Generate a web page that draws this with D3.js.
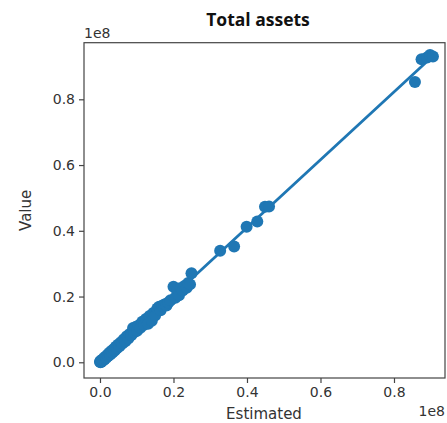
<!DOCTYPE html>
<html>
<head>
<meta charset="utf-8">
<script src="https://cdn.jsdelivr.net/npm/d3@7"></script>
<style>
  html, body { margin: 0; padding: 0; background: #fff; }
  svg { display: block; }
  .tick text { font-family: "DejaVu Sans", sans-serif; font-size: 14px; fill: #333; }
</style>
</head>
<body>
<svg id="chart" width="447" height="423"></svg>
<script>
// Total assets: model estimate vs. reported value (units of currency)
const estimated = [
  0, 100000, 200000, 300000, 400000, 500000, 700000, 900000, 1100000, 1300000,
  1500000, 1700000, 2000000, 2200000, 2500000, 2800000, 3100000, 3400000, 3700000, 4000000,
  4300000, 4600000, 5000000, 5300000, 5700000, 6100000, 6500000, 6900000, 7300000, 7700000,
  8100000, 8500000, 9000000, 9300000, 9700000, 10100000, 10500000, 11000000, 11500000, 12000000,
  12500000, 13100000, 13500000, 14100000, 14500000, 15000000, 15600000, 16100000, 16500000, 17000000,
  17500000, 18100000, 18600000, 19200000, 20000000, 20500000, 21000000, 21500000, 22000000, 22500000,
  23100000, 23600000, 24000000, 24500000, 24900000,
  32700000, 36500000, 39900000, 42800000, 44900000, 46000000,
  85700000, 87500000, 89000000, 89800000, 90600000
];
const value = [
  200000, 0, 400000, 100000, 600000, 300000, 800000, 600000, 1300000, 1000000,
  1700000, 1400000, 2200000, 1900000, 2800000, 2400000, 3400000, 3000000, 4000000, 3600000,
  4700000, 4300000, 5400000, 4900000, 6100000, 5700000, 7000000, 6400000, 7900000, 7200000,
  8600000, 8200000, 10400000, 9100000, 10700000, 9600000, 11200000, 10500000, 12300000, 11400000,
  13200000, 11700000, 14100000, 12600000, 15000000, 14200000, 16400000, 16900000, 15800000, 17200000,
  17600000, 17300000, 18200000, 18900000, 23000000, 19600000, 21700000, 20400000, 22600000, 21800000,
  23300000, 22700000, 24100000, 23700000, 27100000,
  33900000, 35200000, 41200000, 42800000, 47300000, 47400000,
  85300000, 92200000, 92700000, 93500000, 93000000
];

// Axis tick values, expressed in the 1e8 offset shown beside each axis
const xTicks = [0, 0.2, 0.4, 0.6, 0.8];
const yTicks = [0, 0.2, 0.4, 0.6, 0.8];
const scaleExp = 1e8;

const title = "Total assets";
const xLabel = "Estimated";
const yLabel = "Value";
const blue = "#1f77b4";

const svg = d3.select("#chart");
const plot = { left: 84, top: 42.7, right: 445, bottom: 378 };

const x = d3.scaleLinear().domain([-0.0435, 0.9388]).range([plot.left, plot.right]);
const y = d3.scaleLinear().domain([-0.0478, 0.9722]).range([plot.bottom, plot.top]);

const points = estimated.map((e, i) => ({ e: e / scaleExp, v: value[i] / scaleExp }));

// Ordinary least-squares fit of value on estimate
const mx = d3.mean(points, d => d.e), my = d3.mean(points, d => d.v);
const sxy = d3.sum(points, d => (d.e - mx) * (d.v - my));
const sxx = d3.sum(points, d => (d.e - mx) ** 2);
const slope = sxy / sxx, intercept = my - slope * mx;
const [xmin, xmax] = d3.extent(points, d => d.e);

// scatter
svg.append("g")
  .selectAll("circle")
  .data(points)
  .join("circle")
  .attr("cx", d => x(d.e))
  .attr("cy", d => y(d.v))
  .attr("r", 6)
  .attr("fill", blue);

// regression line over data range
svg.append("line")
  .attr("x1", x(xmin)).attr("y1", y(intercept + slope * xmin))
  .attr("x2", x(xmax)).attr("y2", y(intercept + slope * xmax))
  .attr("stroke", blue)
  .attr("stroke-width", 2.8)
  .attr("stroke-linecap", "round");

// frame
svg.append("rect")
  .attr("x", plot.left).attr("y", plot.top)
  .attr("width", plot.right - plot.left).attr("height", plot.bottom - plot.top)
  .attr("fill", "none").attr("stroke", "#444").attr("stroke-width", 1.2);

// axes
const xAxis = svg.append("g")
  .attr("transform", `translate(0,${plot.bottom})`)
  .call(d3.axisBottom(x).tickValues(xTicks).tickFormat(d3.format(".1f")).tickSize(5).tickPadding(4));
const yAxis = svg.append("g")
  .attr("transform", `translate(${plot.left},0)`)
  .call(d3.axisLeft(y).tickValues(yTicks).tickFormat(d3.format(".1f")).tickSize(5).tickPadding(4));
[xAxis, yAxis].forEach(g => {
  g.select(".domain").remove();
  g.selectAll(".tick line").attr("stroke", "#444").attr("stroke-width", 1.2);
});

const textFont = "'DejaVu Sans', sans-serif";

// offset labels
svg.append("text")
  .attr("x", plot.left).attr("y", 38)
  .attr("font-family", textFont).attr("font-size", 14).attr("fill", "#333")
  .text("1e8");
svg.append("text")
  .attr("x", plot.right).attr("y", 416)
  .attr("text-anchor", "end")
  .attr("font-family", textFont).attr("font-size", 14).attr("fill", "#333")
  .text("1e8");

// axis labels
svg.append("text")
  .attr("x", 264).attr("y", 419)
  .attr("text-anchor", "middle")
  .attr("font-family", textFont).attr("font-size", 15).attr("fill", "#333")
  .text(xLabel);
svg.append("text")
  .attr("transform", `translate(31,${(plot.top + plot.bottom) / 2}) rotate(-90)`)
  .attr("text-anchor", "middle")
  .attr("font-family", textFont).attr("font-size", 15).attr("fill", "#333")
  .text(yLabel);

// title
svg.append("text")
  .attr("x", 258).attr("y", 25.5)
  .attr("text-anchor", "middle")
  .attr("font-family", "'Open Sans', sans-serif").attr("font-weight", "bold").attr("font-size", 17.5)
  .attr("fill", "#111")
  .text(title);
</script>
</body>
</html>
